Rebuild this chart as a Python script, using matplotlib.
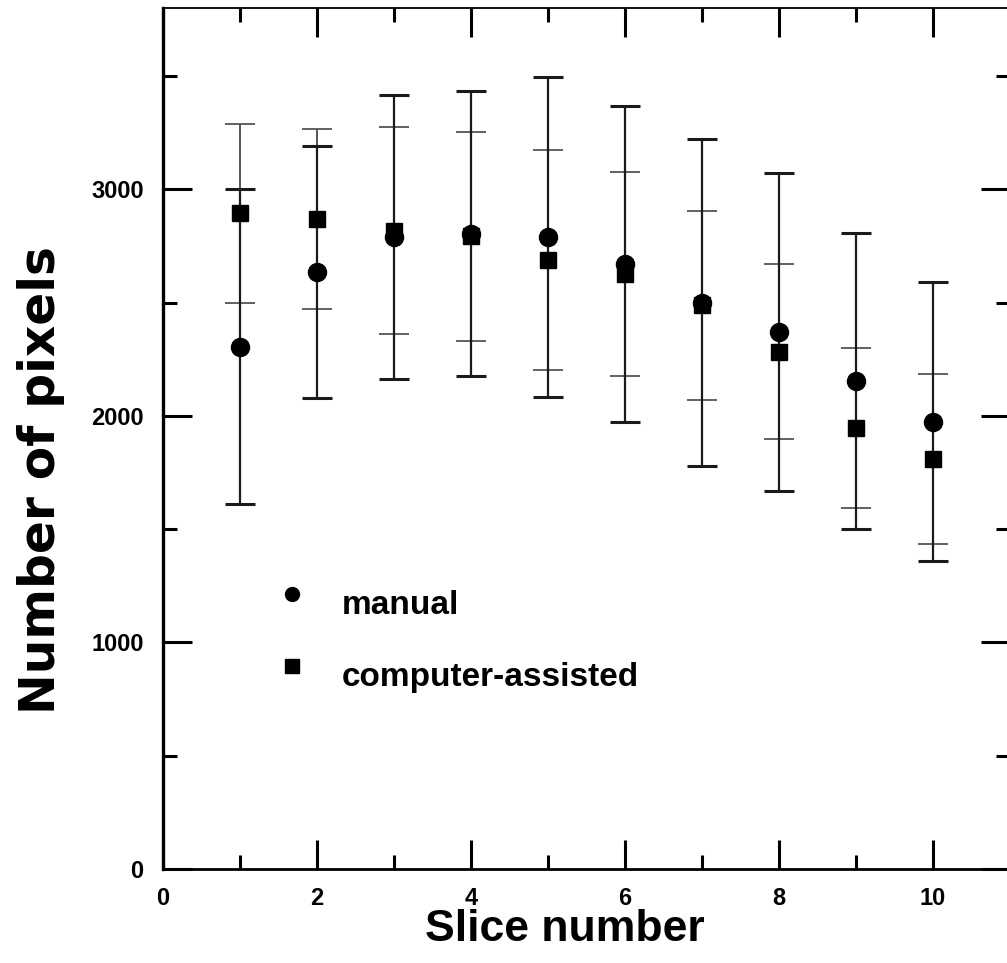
import numpy as np
import matplotlib.pyplot as plt
from matplotlib.lines import Line2D
from matplotlib.transforms import ScaledTranslation

# mean pixel counts per slice with standard deviations
slices = np.arange(1, 11)
manual = [2305, 2635, 2790, 2805, 2790, 2670, 2500, 2370, 2155, 1975]
manual_sd = [695, 555, 627, 631, 707, 697, 721, 702, 653, 616]
computer = [2895, 2870, 2818, 2792, 2688, 2626, 2488, 2283, 1947, 1810]
computer_sd = [395, 398, 455, 460, 484, 451, 416, 387, 353, 376]

plt.rcParams['font.family'] = ['Liberation Sans', 'DejaVu Sans']
plt.rcParams['font.weight'] = 'bold'

fig = plt.figure(figsize=(10.07, 9.63), dpi=100)
ax = fig.add_axes([0.162, 0.0976, 0.841, 0.894])

ax.errorbar(slices, computer, yerr=computer_sd, fmt='s', ms=12, color='k',
            ecolor='#555555', elinewidth=1.4, capsize=11, capthick=1.3)
ax.errorbar(slices, manual, yerr=manual_sd, fmt='o', ms=13, color='k',
            ecolor='#1a1a1a', elinewidth=1.6, capsize=11, capthick=2.2)

ax.set_xlim(0, 11)
ax.set_ylim(0, 3800)
ax.set_xticks(np.arange(0, 11, 2))
ax.set_xticks(np.arange(1, 11, 2), minor=True)
ax.set_yticks(np.arange(0, 3001, 1000))
ax.set_yticks(np.arange(500, 3600, 1000), minor=True)
ax.tick_params(which='both', direction='in', top=True, right=True,
               width=2.2, labelsize=17)
ax.tick_params(which='major', length=21)
ax.tick_params(which='minor', length=10)
ax.tick_params(axis='x', pad=13)
ax.tick_params(axis='y', pad=14)

ax.spines['left'].set_linewidth(2.4)
ax.spines['bottom'].set_linewidth(2.0)
ax.spines['top'].set_linewidth(1.3)
ax.spines['right'].set_linewidth(2.0)

ax.set_xlabel('Slice number', fontsize=32, fontweight='bold')
ax.xaxis.set_label_coords(0.474, -0.047)
ax.set_ylabel('Number of pixels', fontsize=35, fontweight='bold',
              family=['DejaVu Sans'])
ax.yaxis.set_label_coords(-0.116, 0.452)

handles = [Line2D([], [], marker='o', ls='none', ms=10, color='k'),
           Line2D([], [], marker='s', ls='none', ms=9.5, color='k')]
leg = ax.legend(handles, ['manual', 'computer-assisted'], loc='upper left',
                bbox_to_anchor=(0.133, 0.334), frameon=False, borderpad=0,
                borderaxespad=0, handlelength=1.0, handletextpad=0.97,
                labelspacing=1.23,
                prop={'weight': 'bold', 'size': 24})
# labels sit a little below their symbols
shift = ScaledTranslation(0, -9 / 100, fig.dpi_scale_trans)
for t in leg.get_texts():
    t.set_transform(t.get_transform() + shift)

fig.savefig('out.png', dpi=100)
